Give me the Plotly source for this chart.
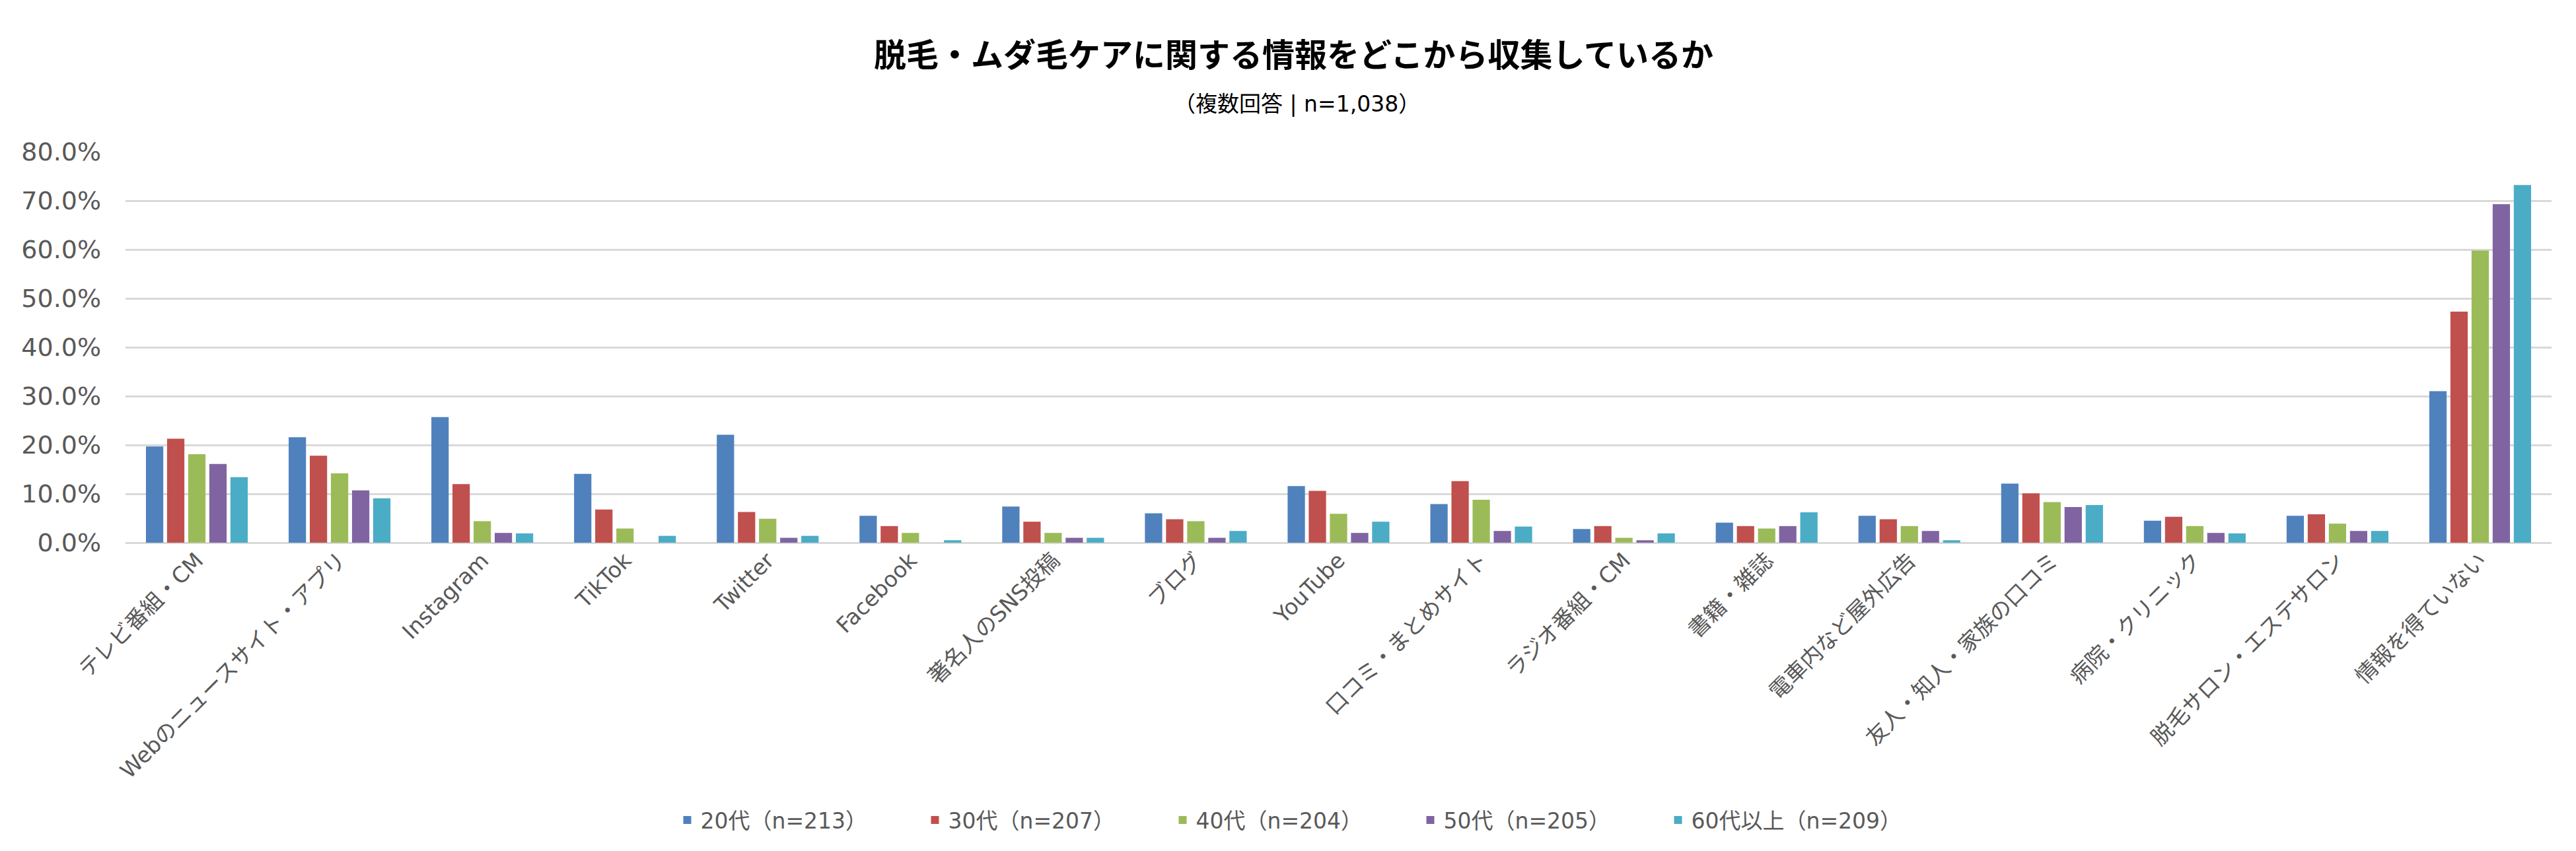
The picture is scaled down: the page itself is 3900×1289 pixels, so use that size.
import plotly.graph_objects as go

# カテゴリ（情報源）
categories = [
    "テレビ番組・CM", "Webのニュースサイト・アプリ", "Instagram", "TikTok", "Twitter",
    "Facebook", "著名人のSNS投稿", "ブログ", "YouTube", "口コミ・まとめサイト",
    "ラジオ番組・CM", "書籍・雑誌", "電車内など屋外広告", "友人・知人・家族の口コミ",
    "病院・クリニック", "脱毛サロン・エステサロン", "情報を得ていない",
]

series_names = ["20代（n=213）", "30代（n=207）", "40代（n=204）", "50代（n=205）", "60代以上（n=209）"]

# 値（%）
age20 = [19.7, 21.6, 25.7, 14.1, 22.1, 5.5, 7.4, 6.0, 11.6, 7.9, 2.8, 4.1, 5.5, 12.1, 4.5, 5.5, 31.0]
age30 = [21.3, 17.8, 12.0, 6.8, 6.3, 3.4, 4.3, 4.8, 10.6, 12.6, 3.4, 3.4, 4.8, 10.1, 5.3, 5.8, 47.3]
age40 = [18.1, 14.2, 4.4, 2.9, 4.9, 2.0, 2.0, 4.4, 5.9, 8.8, 1.0, 2.9, 3.4, 8.3, 3.4, 3.9, 59.8]
age50 = [16.1, 10.7, 2.0, 0.0, 1.0, 0.0, 1.0, 1.0, 2.0, 2.4, 0.5, 3.4, 2.4, 7.3, 2.0, 2.4, 69.3]
age60 = [13.4, 9.1, 1.9, 1.4, 1.4, 0.5, 1.0, 2.4, 4.3, 3.3, 1.9, 6.2, 0.5, 7.7, 1.9, 2.4, 73.2]

colors = ["#4F81BD", "#C0504D", "#9BBB59", "#8064A2", "#4BACC6"]

title_text = "脱毛・ムダ毛ケアに関する情報をどこから収集しているか"
subtitle_text = "（複数回答 | n=1,038）"

# Meiryo風: 欧文は Verdana 系の DejaVu Sans、和文は Noto Sans CJK JP
font_family = "DejaVu Sans, Noto Sans CJK JP"

W, H = 3900, 1289
M_L, M_R, M_T, M_B = 182, 45, 222, 475
plot_w = W - M_L - M_R
plot_h = H - M_T - M_B


def px_to_paper_y(py):
    # ページ上端からのピクセル位置を paper 座標へ
    return 1 + (M_T - py) / plot_h


def px_to_paper_x(px):
    return (px - M_L) / plot_w


fig = go.Figure()
for name, vals, col in zip(series_names, [age20, age30, age40, age50, age60], colors):
    fig.add_trace(go.Bar(
        x=categories,
        y=[v / 100 for v in vals],
        name=name,
        marker=dict(color=col, line=dict(width=0)),
    ))

fig.update_layout(
    width=W,
    height=H,
    paper_bgcolor="white",
    plot_bgcolor="white",
    font=dict(family=font_family, color="#595959", size=32),
    barmode="group",
    bargap=0.26,
    bargroupgap=0.18,
    margin=dict(l=M_L, r=M_R, t=M_T, b=M_B),
    showlegend=True,
    legend=dict(
        orientation="h",
        x=px_to_paper_x(1950), xanchor="center",
        y=px_to_paper_y(1234), yanchor="middle",
        font=dict(size=33, color="#595959"),
        itemwidth=30,
        entrywidth=330,
        traceorder="normal",
    ),
    annotations=[
        dict(text="<b>" + title_text + "</b>", x=px_to_paper_x(1950), y=px_to_paper_y(72),
             xref="paper", yref="paper", yanchor="middle", showarrow=False,
             font=dict(size=49, color="black", family="Noto Sans CJK JP")),
        dict(text=subtitle_text, x=px_to_paper_x(1955), y=px_to_paper_y(150),
             xref="paper", yref="paper", yanchor="middle", showarrow=False,
             font=dict(size=33, color="black", family=font_family)),
    ],
)

fig.update_yaxes(
    range=[0, 0.8],
    dtick=0.1,
    tickformat=".1%",
    showgrid=True,
    gridcolor="#D9D9D9",
    gridwidth=3,
    zeroline=True,
    zerolinecolor="#D9D9D9",
    zerolinewidth=3,
    showline=False,
    tickfont=dict(size=38, color="#595959"),
    ticklabelstandoff=36,
)
fig.update_xaxes(
    tickangle=-45,
    showgrid=False,
    showline=False,
    tickfont=dict(size=33, color="#595959"),
)

fig.write_html("out.html")
